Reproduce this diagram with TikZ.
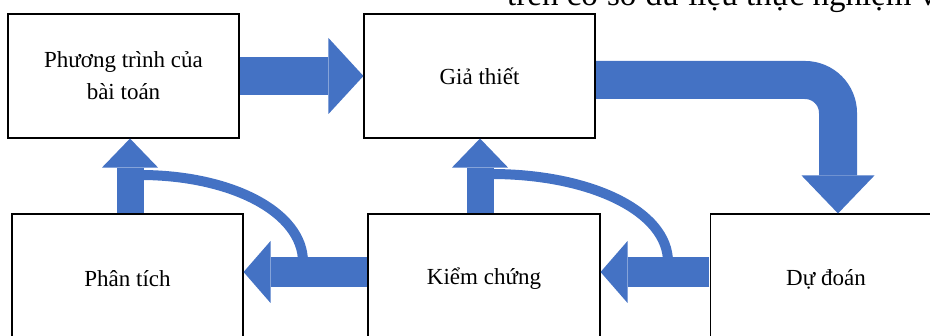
\documentclass[tikz,border=0pt]{standalone}
\usepackage{fontspec}
\setmainfont{Liberation Serif}
\usetikzlibrary{arrows.meta}
\definecolor{ablue}{HTML}{4472C4}
\begin{document}
\begin{tikzpicture}[x=1pt,y=-1pt,
  box/.style={draw=black,line width=1.1pt,minimum width=231pt,inner sep=0pt,align=center,font=\fontsize{23}{32}\selectfont},
  bigarrow/.style={ablue,line width=38pt,-{Triangle[width=76pt,length=35pt,line width=0pt]}},
  bendarrow/.style={ablue,line width=38pt,rounded corners=33pt,-{Triangle[width=73pt,length=38pt,line width=0pt]}},
  leftarrow/.style={ablue,line width=30pt,-{Triangle[width=62pt,length=27pt,line width=0pt]}},
  uparrow/.style={ablue,line width=27pt,-{Triangle[width=56pt,length=29pt,line width=0pt]}},
  loopline/.style={ablue,line width=10pt}]
\useasboundingbox (0,0) rectangle (930,336);
\clip (0,0) rectangle (930,336);
% header text (cut off at top, as in the reference)
\node[anchor=base west,inner sep=0pt,font=\fontsize{33}{40}\selectfont] (hdr) at (507,6) {trên cơ sở dữ liệu thực nghiệm và};
% boxes
\node[box,minimum height=124pt] (pt) at (123.5,76) {Phương trình của\\bài toán};
\node[box,minimum height=124pt] (gt) at (479.5,76) {Giả thiết};
\node[box,minimum height=130pt] (pa) at (127.5,279) {Phân tích};
\node[box,minimum height=130pt,minimum width=232pt] (kc) at (484,279) {Kiểm chứng};
\node[box,minimum height=130pt] (dd) at (826,279) {Dự đoán};
% helper coordinates
\coordinate (bend) at (838,80);
\coordinate (row) at (0,272);
\coordinate (c1) at (130,0);
\coordinate (c2) at (480,0);
\coordinate (l1s) at (303,262);
\coordinate (l1e) at (140,175);
\coordinate (l2s) at (668,262);
\coordinate (l2e) at (491,174);
% arrows
\draw[bigarrow,shorten <=0.6pt] (pt.east) -- (gt.west);
\draw[bendarrow,shorten <=0.6pt] (gt.east |- bend) -- (bend) -- (dd.north -| bend);
\draw[leftarrow,shorten <=0.6pt] (kc.west |- row) -- (pa.east |- row);
\draw[leftarrow,shorten <=0.6pt] (dd.west |- row) -- (kc.east |- row);
\draw[uparrow,shorten <=0.6pt] (pa.north -| c1) -- (pt.south -| c1);
\draw[uparrow,shorten <=0.6pt] (kc.north -| c2) -- (gt.south -| c2);
% feedback curves
\draw[loopline] (l1s) .. controls +(0,-50) and +(91,0) .. (l1e);
\draw[loopline] (l2s) .. controls +(0,-51) and +(99,0) .. (l2e);
\end{tikzpicture}
\end{document}
